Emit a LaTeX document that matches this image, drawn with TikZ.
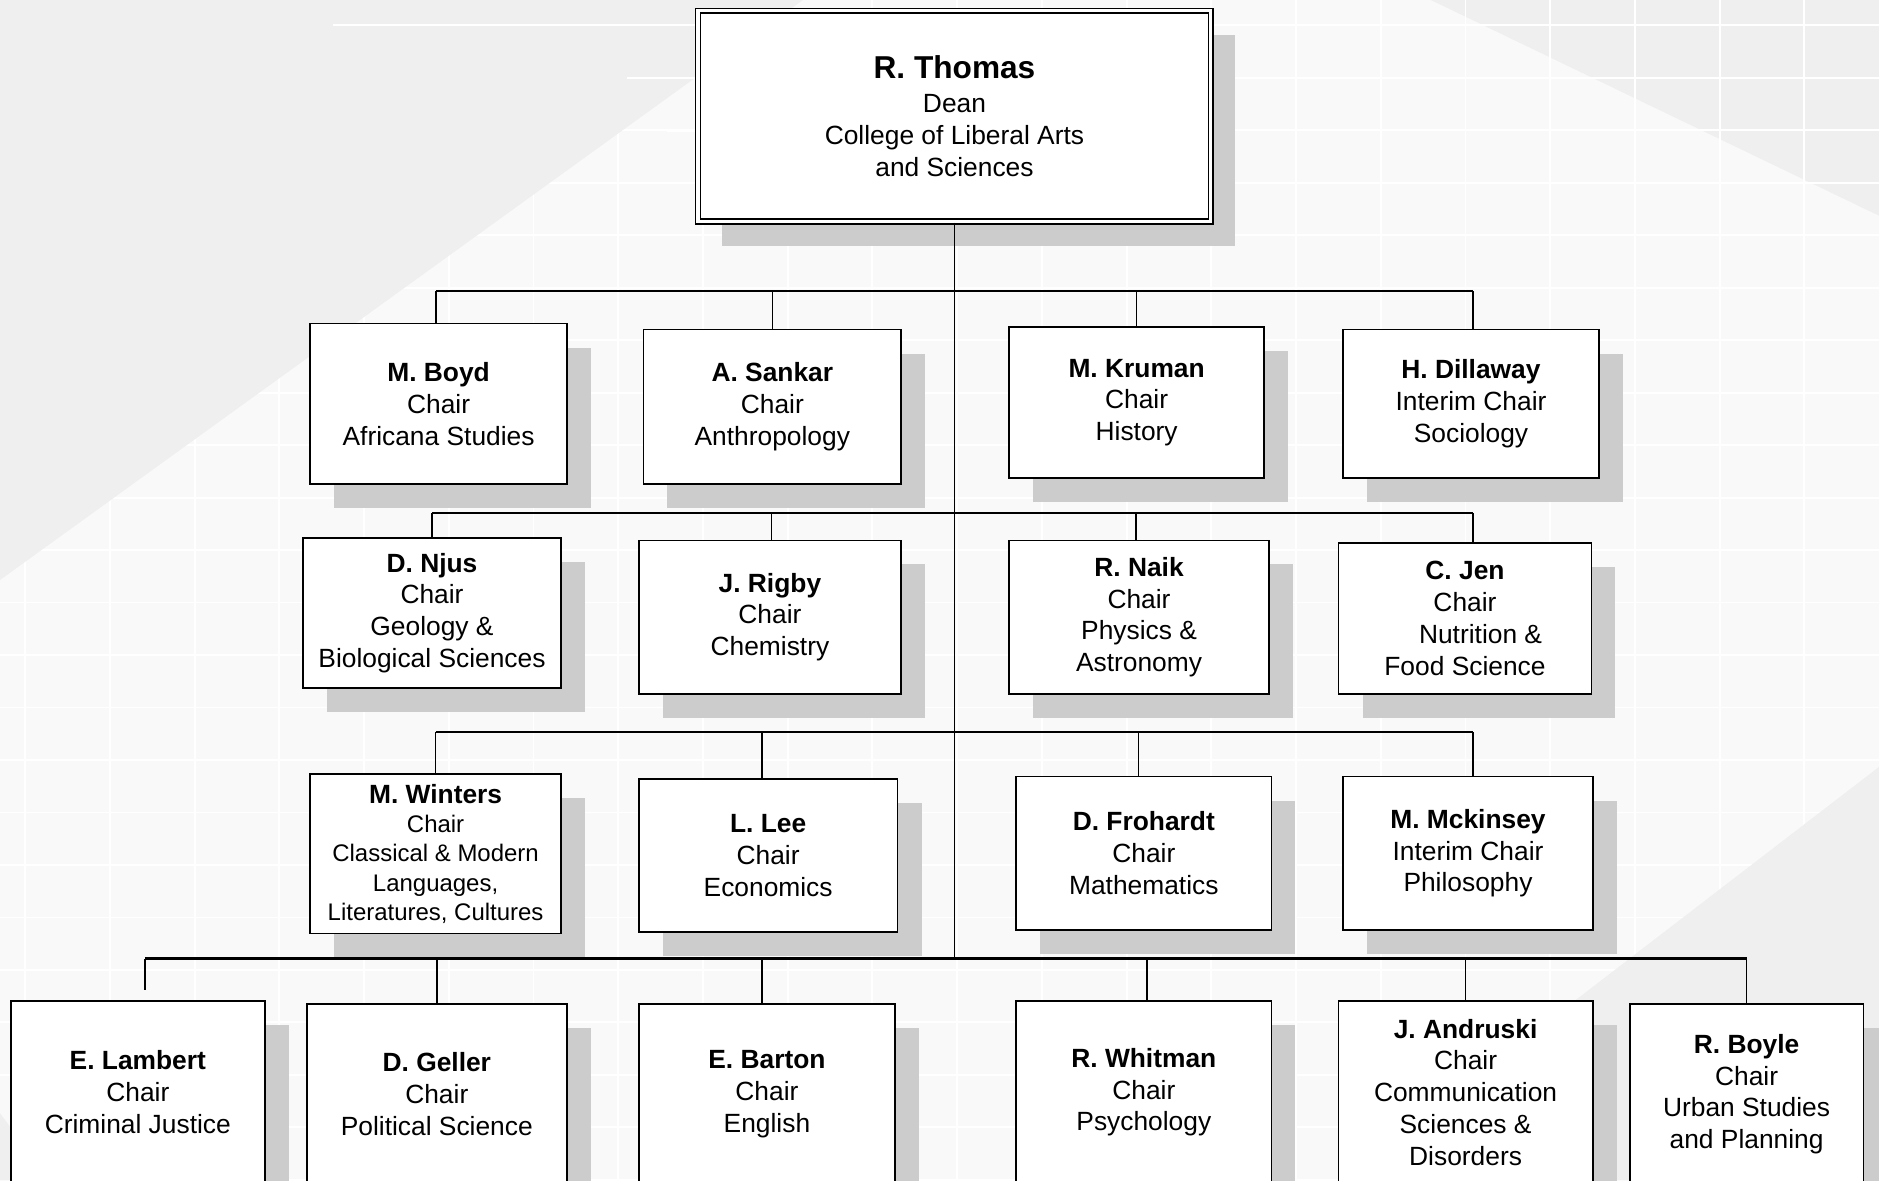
\documentclass[tikz,border=0pt]{standalone}
\usepackage{fontspec}
\setmainfont{Liberation Sans}
\usetikzlibrary{shadows}

\definecolor{bgdark}{HTML}{EFEFEF}
\definecolor{bglight}{HTML}{F9F9F9}
\definecolor{shade}{HTML}{CCCCCC}

\tikzset{
  chairbox/.style={draw, line width=0.75pt, fill=white, align=center,
    font=\fontsize{11}{13.25}\selectfont,
    drop shadow={shadow xshift=10pt, shadow yshift=-10pt, fill=shade, opacity=1}},
  boxsize/.style 2 args={minimum width=#1pt, minimum height=#2pt},
  deanbox/.style={chairbox, line width=0.7pt, double=white, double distance=1.3pt},
  bus/.style={line width=1pt},
  feed/.style={line width=0.6pt},
  gridline/.style={white, line width=0.8pt}
}
\newcommand{\who}[1]{\textbf{#1}}

\begin{document}
\begin{tikzpicture}[x=0.5pt, y=-0.5pt]
    % Fondo
    \useasboundingbox (0,0) rectangle (1568,985);
    \fill[bglight] (0,0) rectangle (1568,985);
    \fill[bgdark] (1194,0) -- (1568,0) -- (1568,180) -- cycle;
    \foreach \i in {0,...,21}
        \draw[gridline] ({21+70.7*\i},0) -- ({21+70.7*\i},985);
    \foreach \j in {0,...,22}
        \draw[gridline] (0,{21+43.8*\j}) -- (1568,{21+43.8*\j});
    \fill[bgdark] (0,0) -- (670,0) -- (0,484) -- cycle;
    \fill[bgdark] (1568,640) -- (1568,985) -- (1119,985) -- cycle;
    \fill[bgdark] (0,929) -- (0,985) -- (42,985) -- cycle;
    \draw[gridline] (278,21) -- (670,21);
    \draw[gridline] (523,65) -- (600,65);
    \draw[gridline] (557,109) -- (600,109);

    % Decano
    \node[deanbox, boxsize={214}{88}] (dean) at (796.5,97)
        {{\fontsize{13.2}{15}\selectfont\bfseries R. Thomas}\\[1pt] Dean\\ College of Liberal Arts\\ and Sciences};

    % Fila 1
    \node[chairbox, boxsize={107}{67}] (boyd) at (366,337) {\who{M. Boyd}\\ Chair\\ Africana Studies};
    \node[chairbox, boxsize={107.5}{64.5}] (sankar) at (644.5,339.5) {\who{A. Sankar}\\ Chair\\ Anthropology};
    \node[chairbox, boxsize={106.5}{63}] (kruman) at (948.5,336) {\who{M. Kruman}\\ Chair\\ History};
    \node[chairbox, boxsize={106.5}{62}] (dillaway) at (1227.5,337) {\who{H. Dillaway}\\ Interim Chair\\ Sociology};

    % Fila 2
    \node[chairbox, boxsize={107.5}{62.5}] (njus) at (360.5,511.5) {\who{D. Njus}\\ Chair\\ Geology \&\\ Biological Sciences};
    \node[chairbox, boxsize={109.5}{64}] (rigby) at (642.5,515) {\who{J. Rigby}\\ Chair\\ Chemistry};
    \node[chairbox, boxsize={108.5}{64}] (naik) at (950.5,515) {\who{R. Naik}\\ Chair\\ Physics \&\\ Astronomy};
    \node[chairbox, boxsize={105.5}{63}] (jen) at (1222.5,516) {\who{C. Jen}\\ Chair\\ \hspace*{13pt}Nutrition \&\\ Food Science};

    % Fila 3
    \node[chairbox, boxsize={104.5}{66.5}, font=\fontsize{10}{12.25}\selectfont] (winters) at (363.5,712.5)
        {{\fontsize{11}{13}\selectfont\bfseries M. Winters}\\ Chair\\ Classical \& Modern\\ Languages,\\ Literatures, Cultures};
    \node[chairbox, boxsize={108}{64}] (lee) at (641,714) {\who{L. Lee}\\ Chair\\ Economics};
    \node[chairbox, boxsize={106.5}{64}] (frohardt) at (954.5,712) {\who{D. Frohardt}\\ Chair\\ Mathematics};
    \node[chairbox, boxsize={104}{64}] (mckinsey) at (1225,712) {\who{M. Mckinsey}\\ Interim Chair\\ Philosophy};

    % Fila 4
    \node[chairbox, boxsize={106}{76.5}] (lambert) at (115,911.5) {\who{E. Lambert}\\ Chair\\ Criminal Justice};
    \node[chairbox, boxsize={108.5}{75}] (geller) at (364.5,913) {\who{D. Geller}\\ Chair\\ Political Science};
    \node[chairbox, boxsize={107}{75}] (barton) at (640,913) {\who{E. Barton}\\ Chair\\ English};
    \node[chairbox, boxsize={106.5}{76.5}] (whitman) at (954.5,911.5) {\who{R. Whitman}\\ Chair\\ Psychology};
    \node[chairbox, boxsize={106}{76.5}] (andruski) at (1223,911.5) {\who{J. Andruski}\\ Chair\\ Communication\\ Sciences \&\\ Disorders};
    \node[chairbox, boxsize={97.5}{75}] (boyle) at (1457.5,913) {\who{R. Boyle}\\ Chair\\ Urban Studies\\ and Planning};

    % Conectores
    \coordinate (bus1) at (0,243);
    \coordinate (bus2) at (0,428);
    \coordinate (bus3) at (0,611);
    \coordinate (bus4) at (0,800);
    \draw[feed] (dean.south) -- (dean.south |- bus4);

    \foreach \n/\dx in {boyd/-1, sankar/0, kruman/0, dillaway/0.75}{
        \coordinate (\n-in) at ([xshift=\dx pt]\n.north);
        \draw[feed] (bus1 -| \n-in) -- (\n-in);
    }
    \draw[bus] (bus1 -| boyd-in) -- (bus1 -| dillaway-in);

    \foreach \n/\dx in {njus/0, rigby/0.75, naik/-1.25, jen/3.25}{
        \coordinate (\n-in) at ([xshift=\dx pt]\n.north);
        \draw[feed] (bus2 -| \n-in) -- (\n-in);
    }
    \draw[bus] (bus2 -| njus-in) -- (bus2 -| jen-in);

    \foreach \n/\dx in {winters/0, lee/-2.5, frohardt/-2.25, mckinsey/2}{
        \coordinate (\n-in) at ([xshift=\dx pt]\n.north);
        \draw[feed] (bus3 -| \n-in) -- (\n-in);
    }
    \draw[bus] (bus3 -| winters-in) -- (bus3 -| mckinsey-in);

    \foreach \n/\dx in {geller/0, barton/-2, whitman/1.25, andruski/0, boyle/0}{
        \coordinate (\n-in) at ([xshift=\dx pt]\n.north);
        \draw[feed] (bus4 -| \n-in) -- (\n-in);
    }
    \coordinate (lambert-in) at ([xshift=3pt]lambert.north);
    \draw[feed, shorten >=4pt] (bus4 -| lambert-in) -- (lambert-in);
    \draw[bus] (bus4 -| lambert-in) -- (bus4 -| boyle-in);
\end{tikzpicture}
\end{document}
